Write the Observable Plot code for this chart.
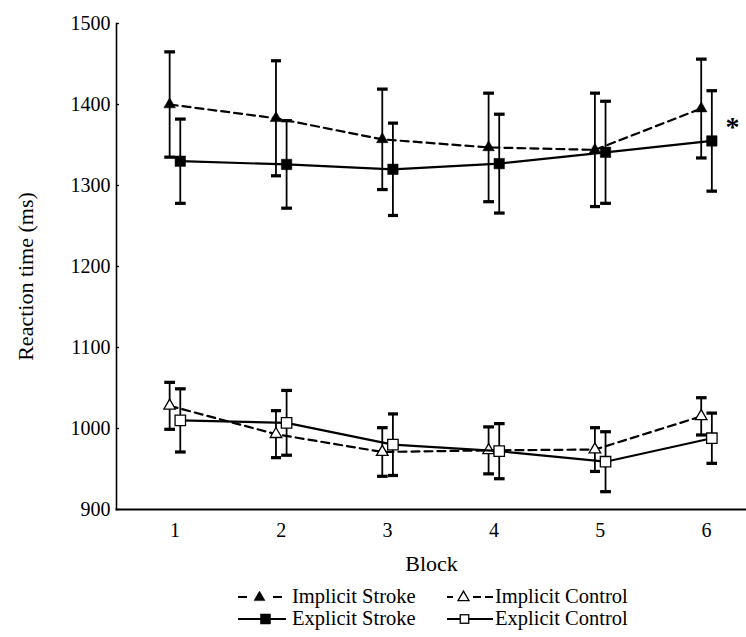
<!DOCTYPE html>
<html><head><meta charset="utf-8">
<script src="https://cdn.jsdelivr.net/npm/d3@7"></script>
<script src="https://cdn.jsdelivr.net/npm/@observablehq/plot@0.6"></script>
<style>
body{margin:0;background:#fff;font-family:"Liberation Serif","Times New Roman",serif;}
#wrap{position:relative;width:746px;height:637px;overflow:hidden;background:#fff}
#chart svg, #chart svg text{font-family:"Liberation Serif","Times New Roman",serif !important;}
#legend{position:absolute;left:238px;top:586px;font-size:20.5px;line-height:20px;color:#000;font-family:"Liberation Serif","Times New Roman",serif}
.row{display:flex;height:22px}
.item{display:flex;align-items:flex-start}
.item svg{display:block;flex:none}
.item span{display:block;height:20px;line-height:20px}
.c1{width:209px}
.c1 span{margin-left:6px}
.c2 span{margin-left:2px}
</style></head><body>
<div id="wrap"><div id="chart"></div><div id="legend"></div></div>
<script>
// ---- data ----
const blocks = [1, 2, 3, 4, 5, 6];
const implicitStroke     = [1400, 1383, 1357, 1347, 1344, 1395];
const implicitStrokeErr  = [65, 71, 62, 67, 70, 61];
const explicitStroke     = [1330, 1326, 1320, 1327, 1341, 1355];
const explicitStrokeErr  = [52, 54, 57, 61, 63, 62];
const implicitControl    = [1028, 993, 971, 973, 974, 1015];
const implicitControlErr = [29, 29, 30, 29, 27, 23];
const explicitControl    = [1010, 1007, 980, 972, 959, 988];
const explicitControlErr = [39, 40, 38, 34, 37, 31];
const yTicks = [900, 1000, 1100, 1200, 1300, 1400, 1500];
const seriesNames = ["Implicit Stroke", "Implicit Control", "Explicit Stroke", "Explicit Control"];
const annotations = [{block: 6.245, value: 1372, label: "*"}];
const yLabel = "Reaction time (ms)";
const xLabel = "Block";

const series = [
  {name: seriesNames[0], values: implicitStroke,  errs: implicitStrokeErr,  offset: -0.05, dash: "8,5", symbol: "triangle", filled: true},
  {name: seriesNames[1], values: implicitControl, errs: implicitControlErr, offset: -0.05, dash: "8,5", symbol: "triangle", filled: false},
  {name: seriesNames[2], values: explicitStroke,  errs: explicitStrokeErr,  offset: 0.05,  dash: null,  symbol: "square",   filled: true},
  {name: seriesNames[3], values: explicitControl, errs: explicitControlErr, offset: 0.05,  dash: null,  symbol: "square",   filled: false}
];

const serif = "'Liberation Serif', 'Times New Roman', serif";
const marks = [];
for (const s of series) {
  const rows = blocks.map((b, i) => ({block: b, x: b + s.offset, mean: s.values[i], lo: s.values[i] - s.errs[i], hi: s.values[i] + s.errs[i]}));
  marks.push(Plot.link(rows, {x1: "x", x2: "x", y1: "lo", y2: "hi", stroke: "#000", strokeWidth: 1.8, markerStart: "tick", markerEnd: "tick"}));
  marks.push(Plot.line(rows, {x: "x", y: "mean", stroke: "#000", strokeWidth: 2.2, strokeDasharray: s.dash}));
  marks.push(Plot.dot(rows, {x: "x", y: "mean", symbol: s.symbol, r: s.symbol === "square" ? 5.9 : 4.3, fill: s.filled ? "#000" : "#fff", stroke: "#000", strokeWidth: s.filled ? 0.5 : 1.3}));
}

const chart = Plot.plot({
  width: 746,
  height: 580,
  marginLeft: 116,
  marginRight: 0,
  marginTop: 23,
  marginBottom: 71,
  style: {fontFamily: serif, fontSize: "20px", background: "#fff", color: "#000"},
  x: {domain: [0.45, 6.376]},
  y: {domain: [900, 1500]},
  marks: [
    Plot.axisY({ticks: yTicks, tickSize: -3, tickPadding: 9, tickFormat: d => String(d), label: null, fontSize: 20, strokeWidth: 1.3}),
    Plot.axisX({ticks: blocks, tickSize: 0, tickPadding: 13, tickFormat: d => String(d), label: null, fontSize: 20}),
    Plot.frame({anchor: "left", stroke: "#000", strokeWidth: 1.6}),
    Plot.frame({anchor: "bottom", stroke: "#000", strokeWidth: 2}),
    Plot.text([yLabel], {text: d => d, frameAnchor: "left", rotate: -90, dx: -91, dy: 10, fontSize: 22, textAnchor: "middle", lineAnchor: "middle"}),
    Plot.text([xLabel], {text: d => d, frameAnchor: "bottom", dy: 54, fontSize: 22, textAnchor: "middle", lineAnchor: "middle"}),
    ...marks,
    Plot.text(annotations, {x: "block", y: "value", text: "label", fontSize: 28, fontWeight: "bold", textAnchor: "middle", lineAnchor: "middle"})
  ]
});
document.getElementById("chart").appendChild(chart);

// ---- legend ----
function tri(cx, cy, filled) {
  const h = 9.5, w = 11;
  return `<path d="M${cx},${cy - h * 0.62}L${cx + w / 2},${cy + h * 0.38}L${cx - w / 2},${cy + h * 0.38}Z" fill="${filled ? "#000" : "#fff"}" stroke="#000" stroke-width="${filled ? 0.5 : 1.3}"/>`;
}
function sq(cx, cy, filled, s) {
  return `<rect x="${cx - s / 2}" y="${cy - s / 2}" width="${s}" height="${s}" fill="${filled ? "#000" : "#fff"}" stroke="#000" stroke-width="${filled ? 0.5 : 1.3}"/>`;
}
const sym = [
  `<svg width="48" height="20"><path d="M0,11H9M35,11H44" stroke="#000" stroke-width="2"/>${tri(21.5, 11, true)}</svg>`,
  `<svg width="46" height="20"><path d="M0,11H6M26,11H34M38,11H46" stroke="#000" stroke-width="2"/>${tri(16.5, 11, false)}</svg>`,
  `<svg width="48" height="20"><path d="M0,11H49" stroke="#000" stroke-width="2"/>${sq(27.5, 11, true, 10)}</svg>`,
  `<svg width="46" height="20"><path d="M0,11H46" stroke="#000" stroke-width="2"/>${sq(17.5, 11, false, 8.5)}</svg>`
];
document.getElementById("legend").innerHTML =
  `<div class="row"><div class="item c1">${sym[0]}<span>${seriesNames[0]}</span></div><div class="item c2">${sym[1]}<span>${seriesNames[1]}</span></div></div>` +
  `<div class="row"><div class="item c1">${sym[2]}<span>${seriesNames[2]}</span></div><div class="item c2">${sym[3]}<span>${seriesNames[3]}</span></div></div>`;
</script>
</body></html>
